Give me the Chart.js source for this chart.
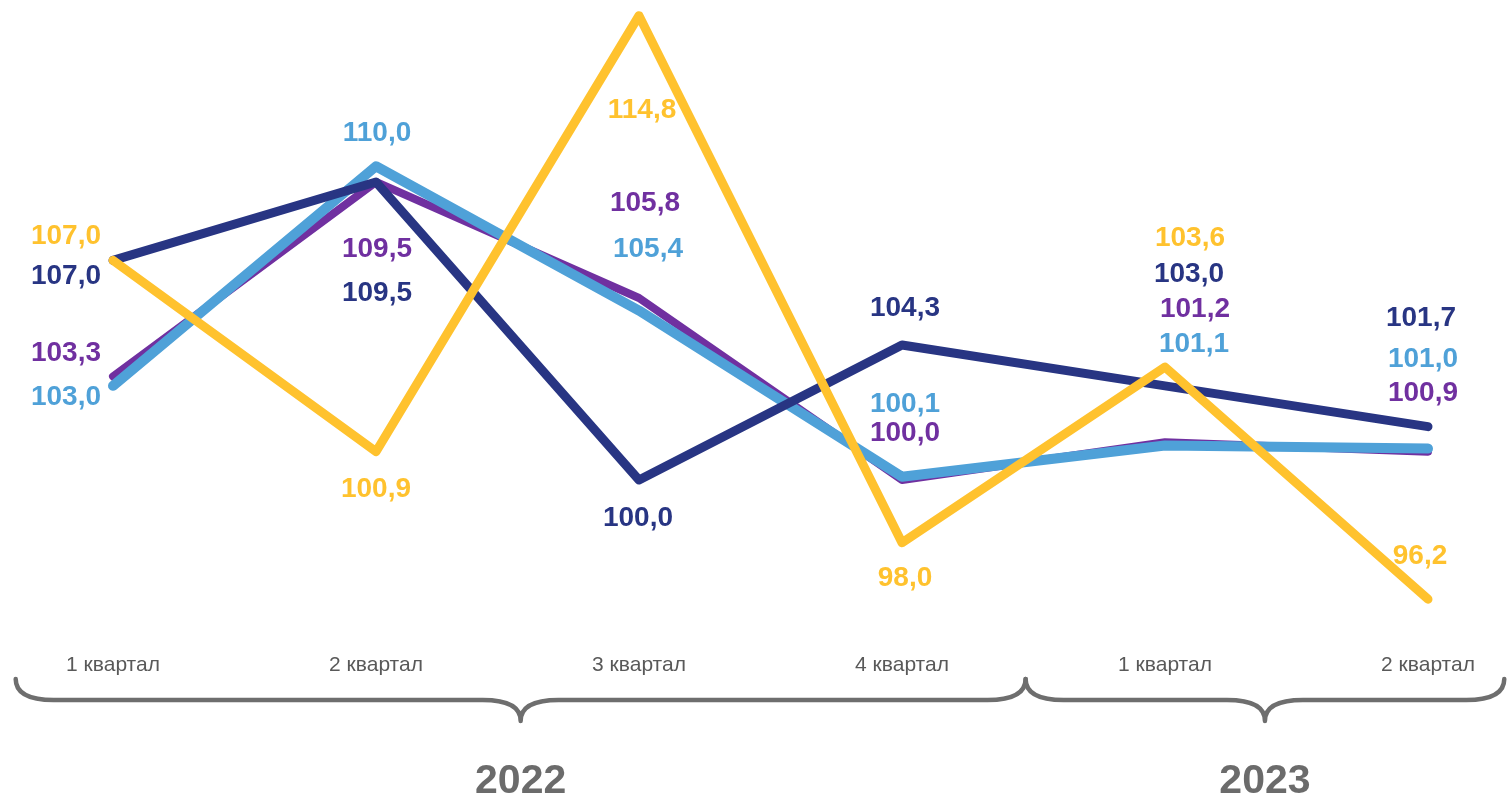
<!DOCTYPE html>
<html>
<head>
<meta charset="utf-8">
<script src="https://cdn.jsdelivr.net/npm/chart.js@4.4.0/dist/chart.umd.min.js"></script>
<style>
  html, body { margin: 0; padding: 0; background: #fff; }
  #wrap { width: 1507px; height: 799px; position: relative; }
</style>
</head>
<body>
<div id="wrap"><canvas id="chart"></canvas></div>
<script>
// quarters 2022 Q1 .. 2023 Q2
const quarters = ['1 квартал', '2 квартал', '3 квартал', '4 квартал', '1 квартал', '2 квартал'];
const years = ['2022', '2023'];
const navyValues   = [107.0, 109.5, 100.0, 104.3, 103.0, 101.7];
const purpleValues = [103.3, 109.5, 105.8, 100.0, 101.2, 100.9];
const blueValues   = [103.0, 110.0, 105.4, 100.1, 101.1, 101.0];
const yellowValues = [107.0, 100.9, 114.8, 98.0, 103.6, 96.2];

const fmt = v => v.toFixed(1).replace('.', ',');
const FONT = '"Liberation Sans", Arial, sans-serif';

// value labels sit at hand-placed offsets from their point (px)
const valueLabels = {
  id: 'valueLabels',
  afterDatasetsDraw(chart) {
    const ctx = chart.ctx;
    ctx.save();
    ctx.font = 'bold 28px ' + FONT;
    ctx.textAlign = 'center';
    ctx.textBaseline = 'middle';
    chart.data.datasets.forEach((ds, i) => {
      const meta = chart.getDatasetMeta(i);
      ctx.fillStyle = ds.borderColor;
      meta.data.forEach((pt, j) => {
        const off = ds.labelOffsets[j];
        ctx.fillText(fmt(ds.data[j]), pt.x + off[0], pt.y + off[1]);
      });
    });
    ctx.restore();
  }
};

// curly braces grouping the quarters by year
const yearBraces = {
  id: 'yearBraces',
  afterDraw(chart) {
    const ctx = chart.ctx;
    const x = chart.scales.x;
    const step = x.getPixelForValue(1) - x.getPixelForValue(0);
    const groups = [
      { from: x.getPixelForValue(0) - 0.37 * step, to: x.getPixelForValue(3) + 0.47 * step, label: years[0] },
      { from: x.getPixelForValue(3) + 0.47 * step, to: x.getPixelForValue(5) + 0.29 * step, label: years[1] }
    ];
    const top = 679, line = 700, tip = 721, r = 38;
    ctx.save();
    ctx.strokeStyle = '#6e6e6e';
    ctx.lineWidth = 4.5;
    ctx.lineCap = 'round';
    ctx.lineJoin = 'round';
    groups.forEach(g => {
      const mid = (g.from + g.to) / 2;
      ctx.beginPath();
      ctx.moveTo(g.from, top);
      ctx.quadraticCurveTo(g.from, line, g.from + r, line);
      ctx.lineTo(mid - r, line);
      ctx.quadraticCurveTo(mid, line, mid, tip);
      ctx.quadraticCurveTo(mid, line, mid + r, line);
      ctx.lineTo(g.to - r, line);
      ctx.quadraticCurveTo(g.to, line, g.to, top);
      ctx.stroke();
      ctx.fillStyle = '#6b6b6b';
      ctx.font = 'bold 41px ' + FONT;
      ctx.textAlign = 'center';
      ctx.textBaseline = 'middle';
      ctx.fillText(g.label, mid, 782);
    });
    ctx.restore();
  }
};

const lineStyle = (color, width, order) => ({
  borderColor: color,
  backgroundColor: color,
  borderWidth: width,
  borderCapStyle: 'round',
  borderJoinStyle: 'round',
  pointRadius: 0,
  tension: 0,
  clip: false,
  order: order
});

new Chart(document.getElementById('chart'), {
  type: 'line',
  data: {
    labels: quarters,
    datasets: [
      Object.assign({ data: purpleValues, labelOffsets: [[-47, -23], [1, 67], [6, -95], [3, -47], [30, -133], [-5, -58]] }, lineStyle('#7030a0', 8, 4)),
      Object.assign({ data: blueValues, labelOffsets: [[-47, 11], [1, -33], [9, -61], [3, -73], [29, -101], [-5, -89]] }, lineStyle('#4fa1d8', 10, 3)),
      Object.assign({ data: navyValues, labelOffsets: [[-47, 16], [1, 111], [-1, 38], [3, -37], [24, -112], [-7, -108]] }, lineStyle('#283583', 9, 2)),
      Object.assign({ data: yellowValues, labelOffsets: [[-47, -24], [0, 38], [3, 95], [3, 36], [25, -129], [-8, -43]] }, lineStyle('#ffc22e', 9, 1))
    ]
  },
  options: {
    responsive: true,
    maintainAspectRatio: false,
    animation: false,
    layout: { padding: { left: 113, right: 79, top: 0, bottom: 113 } },
    plugins: { legend: { display: false }, tooltip: { enabled: false } },
    scales: {
      x: {
        offset: false,
        grid: { display: false },
        border: { display: false },
        ticks: { color: '#595959', font: { family: FONT, size: 21 }, padding: 8, maxRotation: 0, autoSkip: false }
      },
      y: { display: false, min: 95, max: 115.3 }
    }
  },
  plugins: [valueLabels, yearBraces]
});
</script>
</body>
</html>
